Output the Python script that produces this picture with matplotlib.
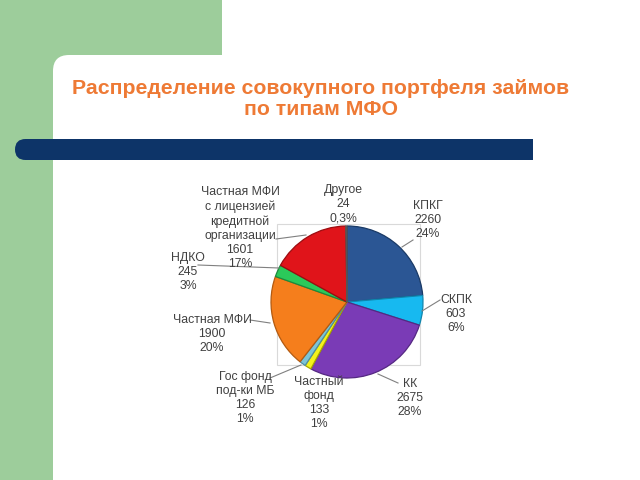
import matplotlib.pyplot as plt
from matplotlib.patches import Rectangle, FancyBboxPatch

# данные диаграммы (по часовой стрелке от 12 часов)
names = ['КПКГ', 'СКПК', 'КК', 'Частный\nфонд', 'Гос фонд\nпод-ки МБ',
         'Частная МФИ', 'НДКО', 'Частная МФИ\nс лицензией\nкредитной\nорганизации', 'Другое']
values = [2260, 603, 2675, 133, 126, 1900, 245, 1601, 24]
percents = ['24%', '6%', '28%', '1%', '1%', '20%', '3%', '17%', '0,3%']
colors = ['#2b5694', '#17b9f0', '#7a3bb6', '#f4f21c', '#7cc4d6',
          '#f57e1c', '#2bc95a', '#e0141a', '#9aa0a6']
edges = ['#1a3a66', '#0f85ad', '#552883', '#a8a600', '#4f8e9e',
         '#b35a10', '#1b8a3d', '#9c0c10', '#555555']

title = 'Распределение совокупного портфеля займов\nпо типам МФО'

H = 480
def py(y):
    return H - y

fig = plt.figure(figsize=(6.4, 4.8), dpi=100)
ax = fig.add_axes([0, 0, 1, 1])

# фон слайда
ax.add_patch(Rectangle((0, py(480)), 222, 480, color='#9dcd9b', lw=0, zorder=0))
ax.add_patch(FancyBboxPatch((53, py(700)), 800, 700 - 55,
                            boxstyle='round,pad=0,rounding_size=16',
                            fc='white', ec='none', zorder=1))
# синяя полоса
ax.add_patch(FancyBboxPatch((15, py(160)), 60, 21,
                            boxstyle='round,pad=0,rounding_size=10.5',
                            fc='#0d3468', ec='none', zorder=2))
ax.add_patch(Rectangle((40, py(160)), 493, 21, color='#0d3468', lw=0, zorder=2))

ax.text(321, py(99), title, ha='center', va='center', color='#ee7a35',
        fontsize=15.3, fontweight='bold', family='Liberation Sans',
        linespacing=1.1, zorder=3)

# рамка области построения
ax.add_patch(Rectangle((277, py(365)), 143, 141, fill=False, ec='#d9d9d9',
                       lw=0.8, zorder=2))

wedges, _ = ax.pie(values, colors=colors, startangle=90, counterclock=False,
                   center=(347, py(302)), radius=76,
                   wedgeprops=dict(linewidth=0.9, zorder=4))
for w, e in zip(wedges, edges):
    w.set_edgecolor(e)
    w.set_zorder(4)

# подписи
label_pos = [(428, 220), (456, 314), (410, 398), (319, 403), (245, 398),
             (212, 334), (188, 272), (240, 228), (343, 204)]
for n, v, p, (x, y) in zip(names, values, percents, label_pos):
    ax.text(x, py(y), f'{n}\n{v}\n{p}', ha='center', va='center',
            color='#404040', fontsize=8.8, linespacing=1.25,
            family='Liberation Sans', zorder=6)

# выноски
leaders = [((413, 240), (402, 247)), ((440, 300), (422, 311)),
           ((398, 383), (378, 374)), ((270, 378), (301, 365)),
           ((250, 320), (270, 323)), ((198, 265), (279, 268)),
           ((276, 239), (306, 235))]
for (x1, y1), (x2, y2) in leaders:
    ax.plot([x1, x2], [py(y1), py(y2)], color='#808080', lw=0.8, zorder=5)

ax.set_xlim(0, 640)
ax.set_ylim(0, 480)
ax.set_aspect('equal')
ax.axis('off')

plt.savefig('out.png', dpi=100)
